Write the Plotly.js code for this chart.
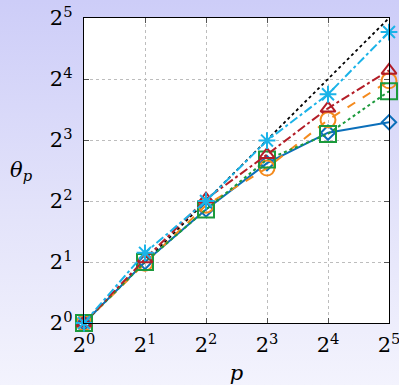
<!DOCTYPE html>
<html>
<head>
<meta charset="utf-8">
<script src="https://cdn.plot.ly/plotly-3.0.1.min.js"></script>
<style>
html,body{margin:0;padding:0;width:399px;height:385px;overflow:hidden;
background:linear-gradient(to bottom,#cdcdf8 0%,#e3e3fa 55%,#f3f3fd 100%);}
#chart{width:399px;height:385px;}
</style>
</head>
<body>
<div id="chart"></div>
<script>
const p = [1, 2, 4, 8, 16, 32];
const ideal = [1, 2, 4, 8, 16, 32];
// log2 values
const blueLog2   = [0, 1.00, 1.86, 2.62, 3.12, 3.29];
const orangeLog2 = [0, 0.98, 1.93, 2.54, 3.33, 3.97];
const greenLog2  = [0, 1.00, 1.86, 2.68, 3.10, 3.80];
const redLog2    = [0, 1.05, 2.03, 2.76, 3.52, 4.14];
const cyanLog2   = [0, 1.15, 2.00, 2.99, 3.75, 4.77];
const tickVals = [1, 2, 4, 8, 16, 32];
const tickText = ['2<sup>0</sup>','2<sup>1</sup>','2<sup>2</sup>','2<sup>3</sup>','2<sup>4</sup>','2<sup>5</sup>'];

const pow2 = a => a.map(v => Math.pow(2, v));

function series(yLog, color, dash, symbol, size) {
  return {
    x: p, y: pow2(yLog), mode: 'lines+markers', type: 'scatter', cliponaxis: false,
    line: {color: color, width: 2, dash: dash},
    marker: {symbol: symbol, size: size, color: color,
             line: {color: color, width: 2}},
    showlegend: false, hoverinfo: 'skip'
  };
}

const traces = [
  {x: p, y: ideal, mode: 'lines', type: 'scatter',
   line: {color: '#000000', width: 1.8, dash: 'dot'}, showlegend: false},
  series(blueLog2,   '#0b6fba', 'solid',   'diamond-open', 11),
  series(orangeLog2, '#f48a1d', 'dash',    'circle-open', 15),
  series(greenLog2,  '#1c9a3c', 'dot',     'square-open', 16),
  series(redLog2,    '#b31d27', 'dashdot', 'triangle-up-open', 13),
  series(cyanLog2,   '#1bb3e8', 'dashdot', 'asterisk-open', 14)
];

const font = {family: 'DejaVu Serif', size: 21, color: '#000'};
const axisCommon = {
  type: 'log', tickmode: 'array', tickvals: tickVals, ticktext: tickText,
  showgrid: true, gridcolor: '#bdbdbd', griddash: 'dot', gridwidth: 1,
  ticks: 'inside', ticklen: 5, tickcolor: '#555', mirror: 'ticks',
  showline: true, linecolor: '#000', linewidth: 1.2,
  zeroline: false, tickfont: font, ticklabeloverflow: 'allow'
};

const layout = {
  width: 399, height: 385,
  margin: {l: 84, r: 10, t: 18, b: 62},
  paper_bgcolor: 'rgba(0,0,0,0)', plot_bgcolor: '#ffffff',
  font: font,
  xaxis: Object.assign({}, axisCommon, {range: [0, Math.log10(32)], ticklabelstandoff: 3,
    title: {text: '<i>p</i>', font: font, standoff: 9}}),
  yaxis: Object.assign({}, axisCommon, {range: [0, Math.log10(32)], ticklabelstandoff: 6}),
  annotations: [{
    text: '<i>θ<sub>p</sub></i>', xref: 'paper', yref: 'paper',
    x: -0.205, y: 0.5, showarrow: false, font: font, xanchor: 'center'
  }]
};

Plotly.newPlot('chart', traces, layout, {displayModeBar: false, staticPlot: true});
</script>
</body>
</html>
